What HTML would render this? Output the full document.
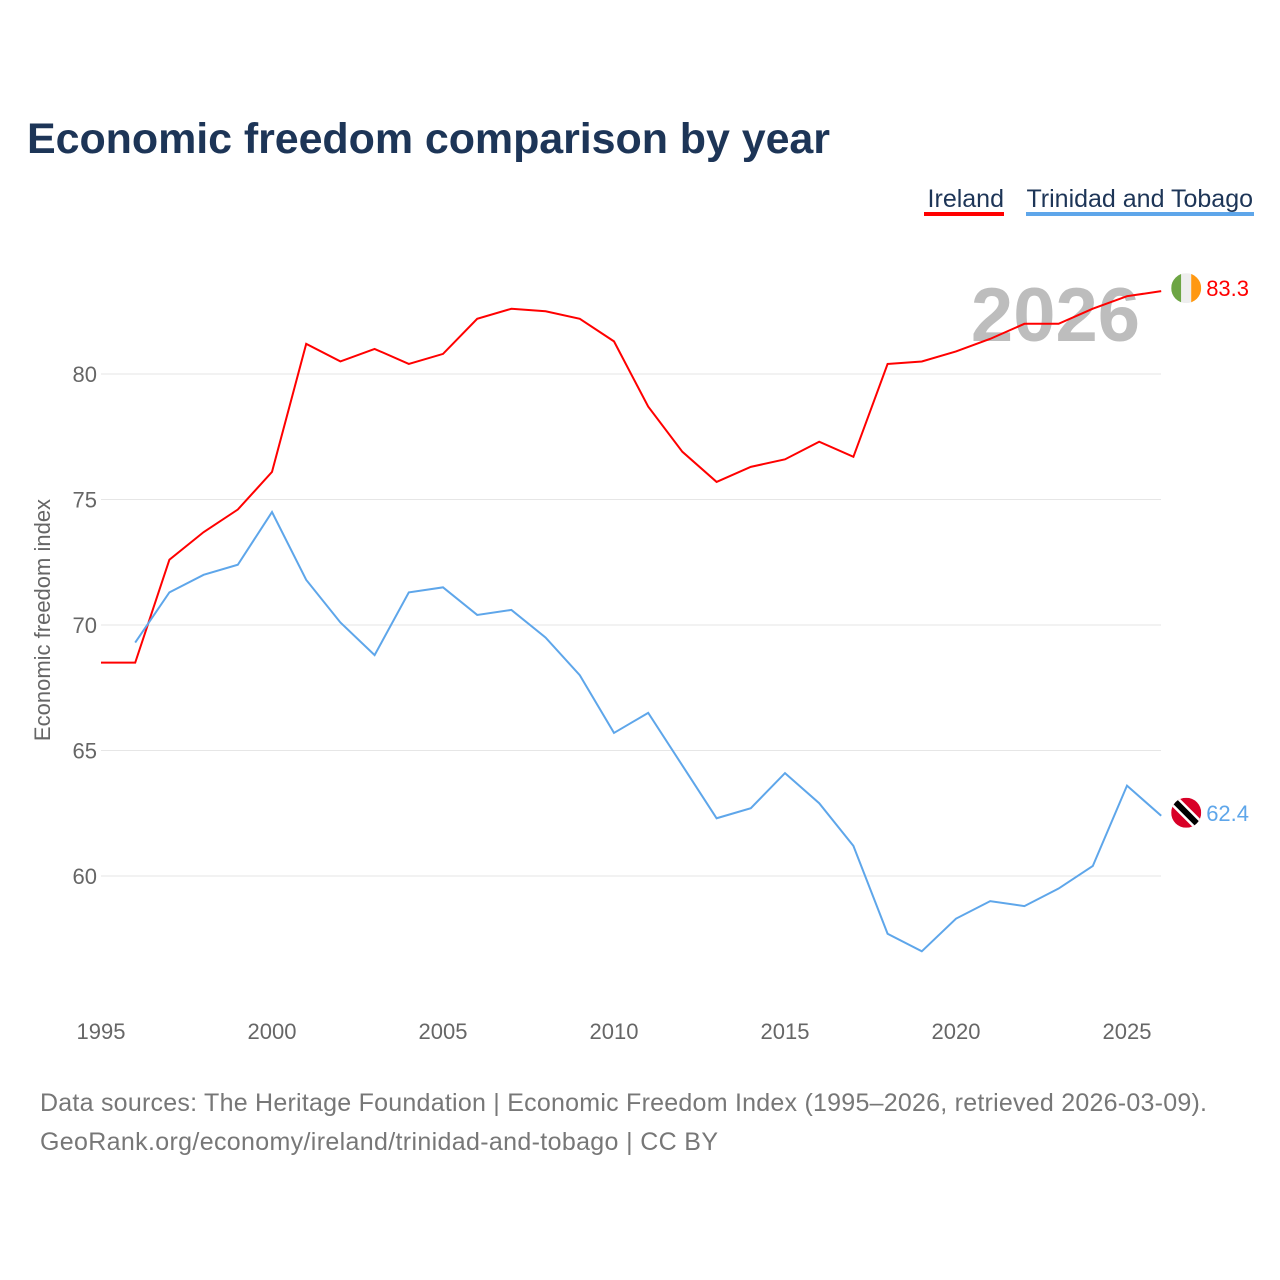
<!DOCTYPE html>
<html><head><meta charset="utf-8"><style>
body{margin:0;background:#fff;font-family:"Liberation Sans",sans-serif;}
#wrap{position:relative;width:1280px;height:1280px;overflow:hidden;}
</style></head><body>
<div id="wrap">
<svg id="chart" width="1280" height="1280">
<text x="27" y="153" font-size="43" font-weight="bold" fill="#1d3557" textLength="803">Economic freedom comparison by year</text>
<g><text x="1004" y="207" font-size="25" fill="#1d3557" text-anchor="end">Ireland</text><rect x="924" y="212" width="80" height="4" fill="#ff0000"/></g>
<g><text x="1253" y="207" font-size="25" fill="#1d3557" text-anchor="end">Trinidad and Tobago</text><rect x="1026" y="212" width="228" height="4" fill="#5ea6ea"/></g>
<text x="1140" y="341" font-size="76" font-weight="bold" fill="#bdbdbd" text-anchor="end">2026</text>
<text transform="translate(50,620) rotate(-90)" font-size="22" fill="#666" text-anchor="middle">Economic freedom index</text>
<g id="grid"></g><g id="xt"></g><g id="lines"></g>
<text x="40" y="1111" font-size="25" fill="#777" textLength="1167">Data sources: The Heritage Foundation | Economic Freedom Index (1995–2026, retrieved 2026-03-09).</text>
<text x="40" y="1150" font-size="25" fill="#777" textLength="678">GeoRank.org/economy/ireland/trinidad-and-tobago | CC BY</text>
</svg></div>
<script>
const years=[1995,1996,1997,1998,1999,2000,2001,2002,2003,2004,2005,2006,2007,2008,2009,2010,2011,2012,2013,2014,2015,2016,2017,2018,2019,2020,2021,2022,2023,2024,2025,2026];
const ireland=[68.5,68.5,72.6,73.7,74.6,76.1,81.2,80.5,81.0,80.4,80.8,82.2,82.6,82.5,82.2,81.3,78.7,76.9,75.7,76.3,76.6,77.3,76.7,80.4,80.5,80.9,81.4,82.0,82.0,82.6,83.1,83.3];
const trinidad=[null,69.3,71.3,72.0,72.4,74.5,71.8,70.1,68.8,71.3,71.5,70.4,70.6,69.5,68.0,65.7,66.5,64.4,62.3,62.7,64.1,62.9,61.2,57.7,57.0,58.3,59.0,58.8,59.5,60.4,63.6,62.4];
const yTicks=[60,65,70,75,80];
const xTicks=[1995,2000,2005,2010,2015,2020,2025];
const X=y=>101+(y-1995)*34.2;
const Y=v=>374+(80-v)*25.1;
const NS="http://www.w3.org/2000/svg";
function mk(t,a,p){const e=document.createElementNS(NS,t);for(const k in a)e.setAttribute(k,a[k]);p.appendChild(e);return e;}
const grid=document.getElementById('grid'),xt=document.getElementById('xt'),lines=document.getElementById('lines');
yTicks.forEach(v=>{
 const l=mk('line',{x1:101,x2:1161,y1:Y(v),y2:Y(v),stroke:'#e6e6e6','stroke-width':1},grid);
 
 
 const t=mk('text',{x:97,y:Y(v)+8,'font-size':22,fill:'#666','text-anchor':'end'},grid);t.textContent=v;
 
 
});
xTicks.forEach(v=>{
 const t=mk('text',{x:X(v),y:1039,'font-size':22,fill:'#666','text-anchor':'middle'},xt);t.textContent=v;
 
 
});
function series(vals,color,name){
 let d='';vals.forEach((v,i)=>{if(v==null)return;d+=(d?'L':'M')+X(years[i])+','+Y(v);});
 const p=mk('path',{d:d,fill:'none',stroke:color,'stroke-width':2},lines);
 
 
 const lv=vals[vals.length-1],ly=Y(lv)-3,lx=X(years[years.length-1])+25;
 const g=mk('g',{},lines);
 
 
 const t=mk('text',{x:lx+20,y:ly+8,'font-size':22,fill:color},g);t.textContent=lv.toFixed(1);
 return {g,lx,ly};
}
const a=series(ireland,'#ff0000','ireland');
mk('clipPath',{id:'c1'},a.g).appendChild(document.createElementNS(NS,'circle'));
const c1=a.g.querySelector('#c1 circle');c1.setAttribute('cx',a.lx);c1.setAttribute('cy',a.ly);c1.setAttribute('r',15);
const f1=mk('g',{'clip-path':'url(#c1)'},a.g);
mk('rect',{x:a.lx-15,y:a.ly-15,width:10,height:30,fill:'#6da544'},f1);
mk('rect',{x:a.lx-5,y:a.ly-15,width:10,height:30,fill:'#eeeeee'},f1);
mk('rect',{x:a.lx+5,y:a.ly-15,width:10,height:30,fill:'#ff9811'},f1);
const b=series(trinidad,'#5ea6ea','trinidad');
mk('clipPath',{id:'c2'},b.g).appendChild(document.createElementNS(NS,'circle'));
const c2=b.g.querySelector('#c2 circle');c2.setAttribute('cx',b.lx);c2.setAttribute('cy',b.ly);c2.setAttribute('r',15);
const f2=mk('g',{'clip-path':'url(#c2)'},b.g);
mk('rect',{x:b.lx-15,y:b.ly-15,width:30,height:30,fill:'#d80027'},f2);
mk('line',{x1:b.lx-15,y1:b.ly-15,x2:b.lx+15,y2:b.ly+15,stroke:'#fff','stroke-width':11},f2);
mk('line',{x1:b.lx-15,y1:b.ly-15,x2:b.lx+15,y2:b.ly+15,stroke:'#000','stroke-width':6},f2);
</script>
</body></html>
